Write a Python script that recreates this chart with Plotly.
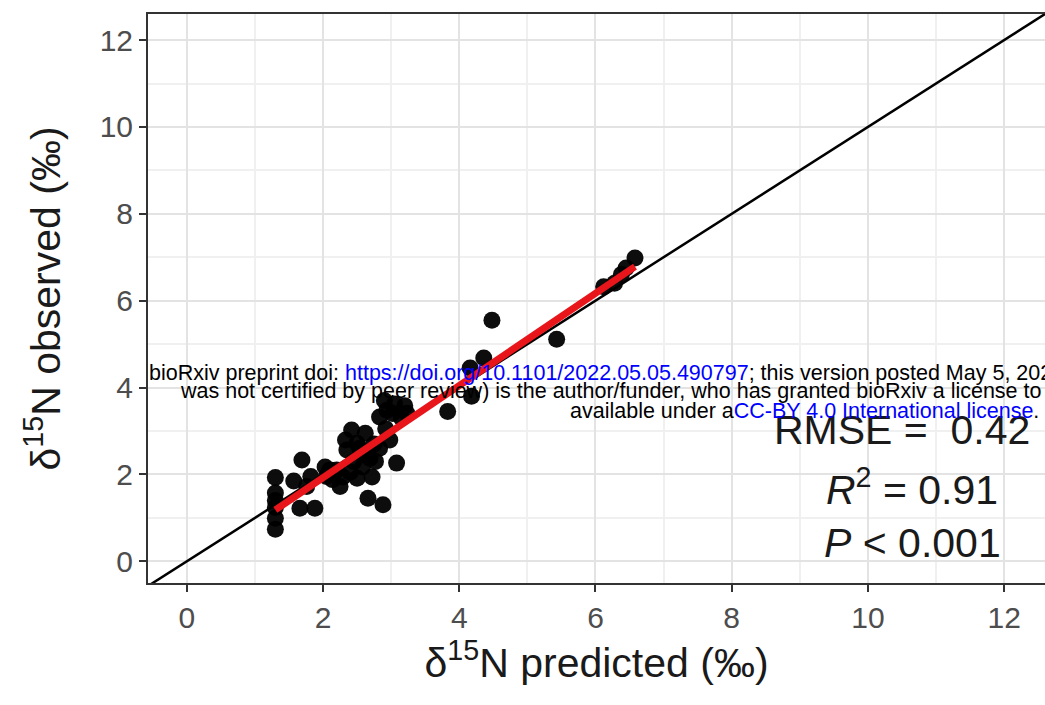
import numpy as np
import plotly.graph_objects as go

predicted = [1.30, 1.30, 1.30, 1.30, 1.30, 1.30,
             1.69, 1.57, 1.76, 1.66, 1.88, 1.82,
             2.03, 2.14, 2.20, 2.29, 2.25, 2.05,
             2.33, 2.42, 2.50, 2.35, 2.54, 2.58, 2.50, 2.72, 2.69, 2.60,
             2.83, 2.94, 3.02, 2.83, 2.98, 3.08, 2.66, 2.88,
             2.90, 3.05, 3.23, 3.20, 2.45, 2.40, 2.75, 2.92, 3.15,
             3.83, 4.16, 4.36, 4.48, 4.18, 5.43,
             6.12, 6.38, 6.45, 6.58, 6.28,
             2.10, 2.62, 2.77]
observed = [1.93, 1.57, 1.40, 1.24, 0.99, 0.74,
            2.33, 1.85, 1.72, 1.22, 1.22, 1.95,
            2.17, 1.88, 2.10, 1.94, 1.72, 1.95,
            2.79, 3.02, 2.72, 2.56, 2.60, 2.17, 1.91, 1.94, 2.37, 2.45,
            3.32, 3.48, 3.40, 2.60, 2.79, 2.26, 1.45, 1.30,
            3.70, 3.62, 3.41, 3.58, 2.30, 2.05, 2.70, 3.05, 3.30,
            3.45, 4.45, 4.68, 5.55, 3.80, 5.11,
            6.32, 6.60, 6.75, 6.98, 6.40,
            2.10, 2.95, 2.30]

axis_range = [-0.57, 12.6]
y_range = [-0.5, 12.6]
tick_vals = [0, 2, 4, 6, 8, 10, 12]
tick_text = ["0", "2", "4", "6", "8", "10", "12"]
stat_labels = ["RMSE =  0.42", "<i>R</i><sup>2</sup> = 0.91", "<i>P</i> &lt; 0.001"]
stat_x = [10.50, 10.65, 10.65]
stat_y = [3.02, 1.70, 0.41]

x = np.array(predicted)
y = np.array(observed)
slope, intercept = np.polyfit(x, y, 1)
fx = np.array([x.min(), x.max()])
fy = intercept + slope * fx

fig = go.Figure()
fig.add_trace(go.Scatter(x=[-1, 13], y=[-1, 13], mode="lines",
                         line=dict(color="black", width=2.5), showlegend=False,
                         hoverinfo="skip"))
fig.add_trace(go.Scatter(x=predicted, y=observed, mode="markers",
                         marker=dict(color="black", size=17, opacity=0.95, line=dict(width=0)),
                         showlegend=False))
fig.add_trace(go.Scatter(x=fx, y=fy, mode="lines",
                         line=dict(color="#e8151b", width=7), showlegend=False))

font_family = "Liberation Sans, Arial, Helvetica, sans-serif"
axis_common = dict(
    tickvals=tick_vals, ticktext=tick_text,
    showgrid=True, gridcolor="#e3e3e3", gridwidth=2,
    minor=dict(dtick=1, tick0=0, showgrid=True, gridcolor="#f0f0f0", gridwidth=1.5),
    zeroline=False,
    showline=True, linecolor="#333333", linewidth=2, mirror=True,
    ticks="outside", ticklen=7, tickwidth=2, tickcolor="#333333",
    tickfont=dict(family=font_family, size=30, color="#4d4d4d"),
)

fig.update_xaxes(range=axis_range, **axis_common,
                 title=dict(text="δ<sup>15</sup>N predicted (‰)",
                            font=dict(family=font_family, size=41, color="#1a1a1a"),
                            standoff=6))
fig.update_yaxes(range=y_range, **axis_common,
                 title=dict(text="δ<sup>15</sup>N observed (‰)",
                            font=dict(family=font_family, size=41, color="#1a1a1a"),
                            standoff=26))

for lab, xx, yy in zip(stat_labels, stat_x, stat_y):
    fig.add_annotation(x=xx, y=yy, xref="x", yref="y", text=lab, showarrow=False,
                       font=dict(family=font_family, size=41, color="#1a1a1a"),
                       xanchor="center", yanchor="middle")

wm_font = dict(family=font_family, size=21.5, color="black")
blue = "#0000ff"
fig.add_annotation(xref="paper", yref="paper", x=-0.001, y=(583 - 373) / 569,
                   xanchor="left", yanchor="middle", showarrow=False, font=wm_font,
                   text=("bioRxiv preprint doi: <span style='color:" + blue + "'>https://doi.org/10.1101/2022.05.05.490797</span>"
                         "; this version posted May 5, 202"))
fig.add_annotation(xref="paper", yref="paper", x=(178 - 148) / 897, y=(583 - 391) / 569,
                   xanchor="left", yanchor="middle", showarrow=False, font=wm_font,
                   text="was not certified by peer review) is the author/funder, who has granted bioRxiv a license to d")
fig.add_annotation(xref="paper", yref="paper", x=(1041 - 148) / 897, y=(583 - 411) / 569,
                   xanchor="right", yanchor="middle", showarrow=False, font=wm_font,
                   text="available under a<span style='color:" + blue + "'>CC-BY 4.0 International license</span>.")

fig.update_layout(
    width=1045, height=705,
    margin=dict(l=148, r=0, t=14, b=122, autoexpand=False),
    plot_bgcolor="white", paper_bgcolor="white",
    font=dict(family=font_family),
)

fig.write_html("out.html")
